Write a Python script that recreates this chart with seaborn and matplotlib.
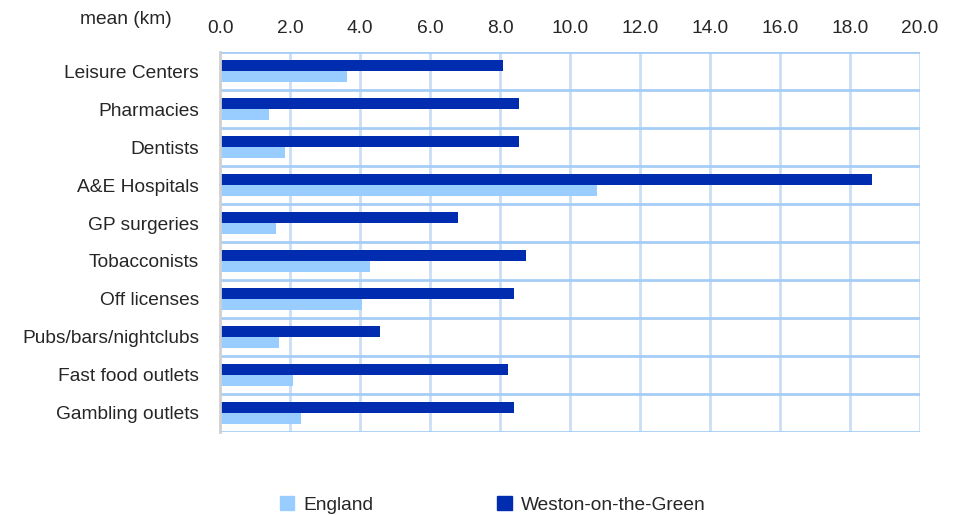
import matplotlib
matplotlib.use("Agg")
import matplotlib.pyplot as plt
import seaborn as sns
import pandas as pd
from matplotlib.patches import Patch

categories = ["Leisure Centers", "Pharmacies", "Dentists", "A&E Hospitals", "GP surgeries",
              "Tobacconists", "Off licenses", "Pubs/bars/nightclubs", "Fast food outlets",
              "Gambling outlets"]
england = [3.63, 1.40, 1.86, 10.77, 1.60, 4.29, 4.06, 1.69, 2.09, 2.31]
weston = [8.09, 8.54, 8.54, 18.63, 6.80, 8.74, 8.40, 4.57, 8.23, 8.40]
xticks = [0, 2, 4, 6, 8, 10, 12, 14, 16, 18, 20]

df = pd.DataFrame({
    "category": categories * 2,
    "value": weston + england,
    "area": ["Weston-on-the-Green"] * len(categories) + ["England"] * len(categories),
})

sns.set_style("white")
plt.rcParams["font.family"] = ["Liberation Sans", "DejaVu Sans"]
fs = 13.8

dark = "#002db0"
light = "#99ccff"
palette = {"Weston-on-the-Green": dark, "England": light}

fig = plt.figure(figsize=(9.62, 5.15), dpi=100)
ax = fig.add_axes([0.2287, 0.1612, 0.7276, 0.7378])

sns.barplot(data=df, y="category", x="value", hue="area", order=categories,
            hue_order=["Weston-on-the-Green", "England"], palette=palette,
            orient="h", width=0.56, saturation=1, linewidth=0, ax=ax, legend=False)

ax.set_xlim(0, 20)
ax.set_ylim(len(categories) - 0.5, -0.5)
ax.set_xticks(xticks)
ax.set_xticklabels([f"{t:.1f}" for t in xticks], fontsize=fs)
ax.xaxis.tick_top()
ax.tick_params(axis="x", length=0, pad=11)
ax.tick_params(axis="y", length=0, pad=15, labelsize=fs)
ax.set_xlabel("")
ax.set_ylabel("")

# grid: vertical lines and category separators
for t in xticks[1:]:
    ax.axvline(t, color="#cadef5", lw=2, zorder=0)
for b in range(len(categories) + 1):
    ax.axhline(b - 0.5, color="#a6cdf7", lw=2, zorder=0)
for s in ["top", "bottom", "right"]:
    ax.spines[s].set_visible(False)
ax.spines["left"].set_color("#d0d0d0")
ax.spines["left"].set_linewidth(2)

fig.text(0.131, 0.963, "mean (km)", ha="center", va="center", fontsize=fs)

handles = [Patch(color=light, label="England"), Patch(color=dark, label="Weston-on-the-Green")]
fig.legend(handles=handles, loc="center", bbox_to_anchor=(0.512, 0.02), ncol=2,
           frameon=False, fontsize=fs, handlelength=0.75, handleheight=0.75,
           columnspacing=6.5, handletextpad=0.45)

fig.savefig("out.png", dpi=100)
